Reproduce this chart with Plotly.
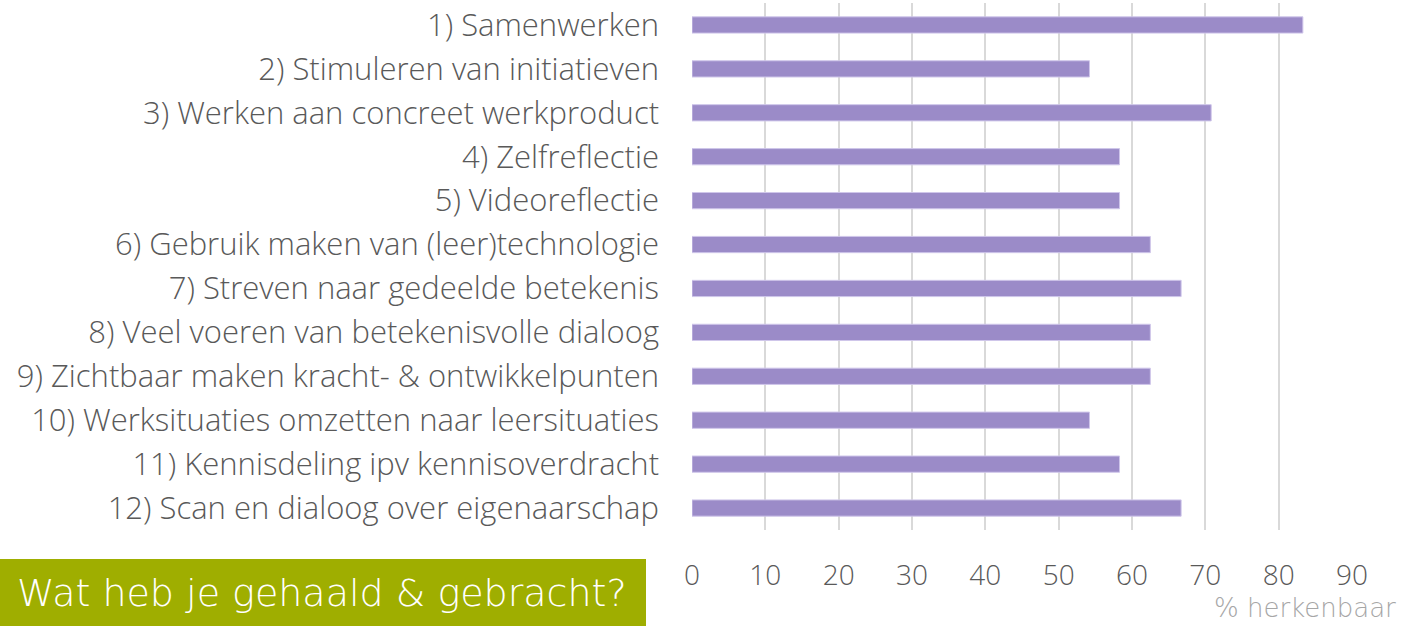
import plotly.graph_objects as go

categories = [
    "1) Samenwerken",
    "2) Stimuleren van initiatieven",
    "3) Werken aan concreet werkproduct",
    "4) Zelfreflectie",
    "5) Videoreflectie",
    "6) Gebruik maken van (leer)technologie",
    "7) Streven naar gedeelde betekenis",
    "8) Veel voeren van betekenisvolle dialoog",
    "9) Zichtbaar maken kracht- & ontwikkelpunten",
    "10) Werksituaties omzetten naar leersituaties",
    "11) Kennisdeling ipv kennisoverdracht",
    "12) Scan en dialoog over eigenaarschap",
]
values = [83.3, 54.2, 70.8, 58.3, 58.3, 62.5, 66.7, 62.5, 62.5, 54.2, 58.3, 66.7]
tick_vals = [0, 10, 20, 30, 40, 50, 60, 70, 80, 90]
axis_title = "% herkenbaar"
banner_text = "Wat heb je gehaald & gebracht?"

W, H = 1402, 627
ML, MR, MT, MB = 692, 50, 3, 97
PW = W - ML - MR
PH = H - MT - MB

fig = go.Figure()
fig.add_trace(go.Bar(
    y=categories, x=values, orientation="h",
    marker=dict(color="#9B8BC8", line=dict(color="#CFC6EA", width=1)),
    hoverinfo="x+y",
))

fig.update_layout(
    width=W, height=H,
    margin=dict(l=ML, r=MR, t=MT, b=MB),
    paper_bgcolor="white", plot_bgcolor="white",
    bargap=0.63,
    showlegend=False,
    font=dict(family="Open Sans", color="#595959"),
    xaxis=dict(
        range=[0, 90], tickvals=tick_vals, showgrid=True,
        gridcolor="#D9D9D9", gridwidth=1.5, zeroline=False,
        showline=False, ticks="", ticklabelstandoff=26,
        tickfont=dict(size=28, color="#595959", family="Open Sans", weight=300),
    ),
    yaxis=dict(
        categoryorder="array", categoryarray=categories,
        autorange="reversed", showgrid=False, zeroline=False,
        showline=False, ticks="", ticklabelstandoff=32,
        tickfont=dict(size=31, color="#595959", family="Open Sans", weight=300),
    ),
)

# green banner box
fig.add_shape(
    type="rect", xref="paper", yref="paper",
    x0=(0 - ML) / PW, x1=(646 - ML) / PW,
    y0=-(626 - (MT + PH)) / PH, y1=-(559 - (MT + PH)) / PH,
    fillcolor="#9FAE00", line=dict(width=0), layer="above",
)
fig.add_annotation(
    xref="paper", yref="paper",
    x=((644 / 2) - ML) / PW, y=-(593 - (MT + PH)) / PH,
    text=banner_text, showarrow=False,
    font=dict(size=38, color="white", family="DejaVu Sans", weight=200),
    xanchor="center", yanchor="middle",
)
fig.add_annotation(
    xref="paper", yref="paper",
    x=(1398 - ML) / PW, y=-(608 - (MT + PH)) / PH,
    text=axis_title, showarrow=False,
    font=dict(size=26, color="#A6A6A6", family="DejaVu Sans", weight=200),
    xanchor="right", yanchor="middle",
)

fig.write_html("out.html", config={"displayModeBar": False},
               post_script="document.body.style.margin='0';")
